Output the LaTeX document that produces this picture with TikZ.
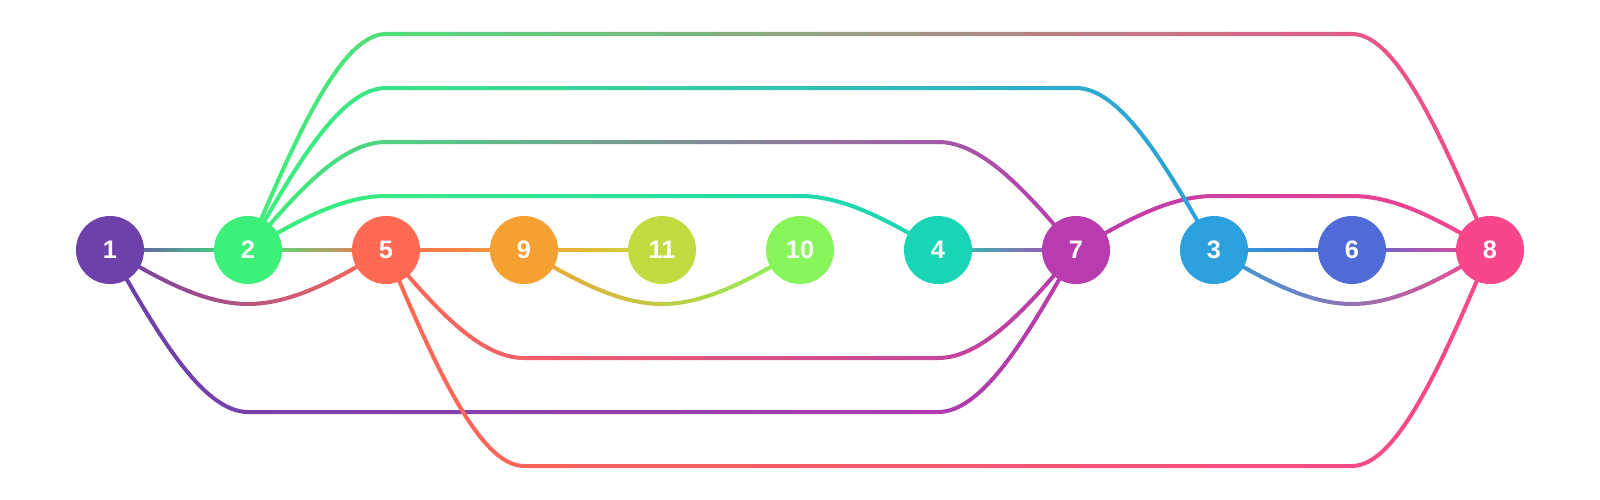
\documentclass[tikz,border=0pt]{standalone}
\usepackage{fontspec}
\setmainfont{Liberation Sans}
\usetikzlibrary{backgrounds}

\definecolor{c1}{HTML}{6E40AA}
\definecolor{c2}{HTML}{3CF07A}
\definecolor{c5}{HTML}{FF6A55}
\definecolor{c9}{HTML}{F5A033}
\definecolor{c11}{HTML}{C4DA41}
\definecolor{c10}{HTML}{88F55A}
\definecolor{c4}{HTML}{1AD5B5}
\definecolor{c7}{HTML}{B83CAF}
\definecolor{c3}{HTML}{2BA0DC}
\definecolor{c6}{HTML}{4F6BD8}
\definecolor{c8}{HTML}{F7478A}

% edge coloured from #1 (left end, x=#3) to #2 (right end, x=#4)
\newcommand{\gradedge}[5]{%
  \foreach \i in {0,...,23}
  {
    \pgfmathsetmacro{\xa}{#3+(#4-#3)/24*\i}
    \pgfmathsetmacro{\xb}{#3+(#4-#3)/24*(\i+1)}
    \pgfmathtruncatemacro{\pc}{round(100/24*(\i+0.5))}
    \begin{scope}
      \clip (\xa-0.5,-10) rectangle (\xb+0.5,510);
      \draw[edge, draw=#2!\pc!#1] #5;
    \end{scope}
  }
}

\begin{document}
\begin{tikzpicture}
[x=0.01cm, y=-0.01cm,
vertex/.style={circle, draw=none, inner sep=0 pt, minimum size=0.68cm, text=white,
  font=\fontsize{7.2}{8}\selectfont\bfseries},
edge/.style={line width=0.04cm, line cap=round}
]

\useasboundingbox (0,0) rectangle (1600,500);

\path
foreach \n/\k in {1/0,2/1,5/2,9/3,11/4,10/5,4/6,7/7,3/8,6/9,8/10}
{(110+138*\k,250) node[vertex, fill=c\n] (V\n) {\n}}
;

\begin{pgfonlayer}{background}
% neighbours
\gradedge{c1}{c2}{110}{248}{(V1) -- (V2)}
\gradedge{c2}{c5}{248}{386}{(V2) -- (V5)}
\gradedge{c5}{c9}{386}{524}{(V5) -- (V9)}
\gradedge{c9}{c11}{524}{662}{(V9) -- (V11)}
\gradedge{c4}{c7}{938}{1076}{(V4) -- (V7)}
\gradedge{c3}{c6}{1214}{1352}{(V3) -- (V6)}
\gradedge{c6}{c8}{1352}{1490}{(V6) -- (V8)}

% arcs above
\gradedge{c2}{c4}{248}{938}{(V2.center) .. controls (294,223) and (340,196) .. (386,196) -- (800,196) .. controls (846,196) and (892,223) .. (V4.center)}
\gradedge{c7}{c8}{1076}{1490}{(V7.center) .. controls (1122,223) and (1168,196) .. (1214,196) -- (1352,196) .. controls (1398,196) and (1444,223) .. (V8.center)}
\gradedge{c2}{c7}{248}{1076}{(V2.center) .. controls (294,196) and (340,142) .. (386,142) -- (938,142) .. controls (984,142) and (1030,196) .. (V7.center)}
\gradedge{c2}{c3}{248}{1214}{(V2.center) .. controls (294,169) and (340,88) .. (386,88) -- (1076,88) .. controls (1122,88) and (1168,169) .. (V3.center)}
\gradedge{c2}{c8}{248}{1490}{(V2.center) .. controls (294,142) and (340,34) .. (386,34) -- (1352,34) .. controls (1398,34) and (1444,142) .. (V8.center)}

% arcs below
\gradedge{c1}{c5}{110}{386}{(V1.center) .. controls (156,277) and (202,304) .. (248,304) .. controls (294,304) and (340,277) .. (V5.center)}
\gradedge{c9}{c10}{524}{800}{(V9.center) .. controls (570,277) and (616,304) .. (662,304) .. controls (708,304) and (754,277) .. (V10.center)}
\gradedge{c3}{c8}{1214}{1490}{(V3.center) .. controls (1260,277) and (1306,304) .. (1352,304) .. controls (1398,304) and (1444,277) .. (V8.center)}
\gradedge{c5}{c7}{386}{1076}{(V5.center) .. controls (432,304) and (478,358) .. (524,358) -- (938,358) .. controls (984,358) and (1030,304) .. (V7.center)}
\gradedge{c1}{c7}{110}{1076}{(V1.center) .. controls (156,331) and (202,412) .. (248,412) -- (938,412) .. controls (984,412) and (1030,331) .. (V7.center)}
\gradedge{c5}{c8}{386}{1490}{(V5.center) .. controls (432,358) and (478,466) .. (524,466) -- (1352,466) .. controls (1398,466) and (1444,358) .. (V8.center)}
\end{pgfonlayer}

\end{tikzpicture}
\end{document}
